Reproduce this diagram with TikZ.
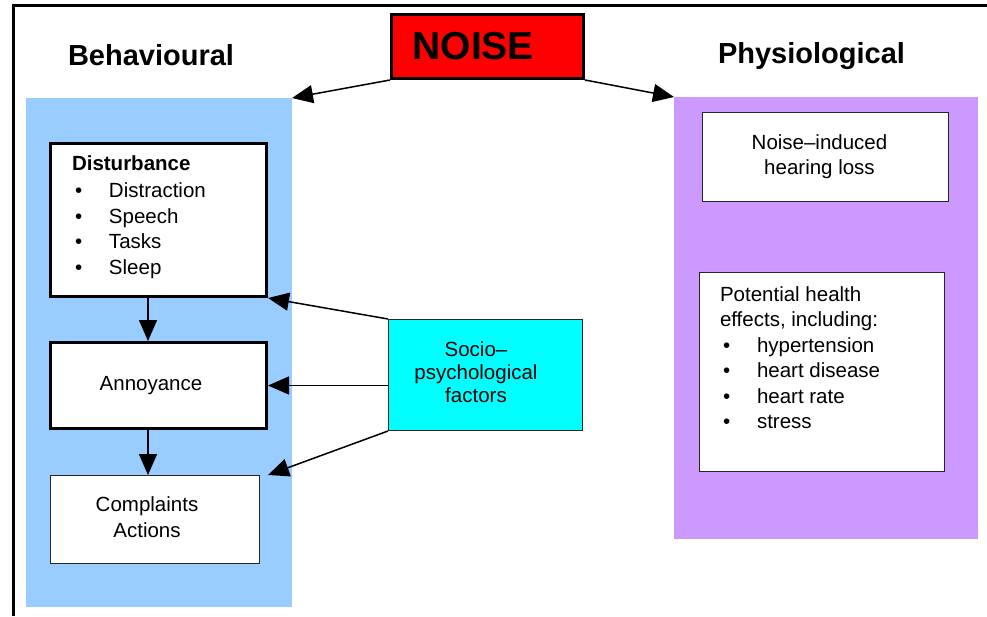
\documentclass[tikz,border=0pt]{standalone}
\usepackage{fontspec}
\setmainfont{Liberation Sans}
\usetikzlibrary{arrows.meta,positioning}

\definecolor{behblue}{RGB}{153,204,255}
\definecolor{physlilac}{RGB}{204,153,255}
\definecolor{sociocyan}{RGB}{0,255,255}
\newcommand{\bodyfont}{\fontsize{20.5}{25.5}\selectfont}
\newcommand{\bulletline}[1]{\hspace*{3pt}\makebox[34pt][l]{\textbullet}#1}

\begin{document}
\begin{tikzpicture}[x=1pt, y=-1pt,
    panel/.style={draw=none, inner sep=0pt, outer sep=0pt, anchor=north west},
    thickbox/.style={draw, line width=3pt, fill=white, inner sep=0pt, font=\bodyfont},
    thinbox/.style={draw=black!85, line width=1pt, fill=white, inner sep=0pt, font=\bodyfont},
    heading/.style={anchor=base, font=\fontsize{29}{33}\selectfont\bfseries},
    arrow/.style={-{Triangle[length=21pt,width=18pt]}, line width=1.5pt}
]
\useasboundingbox (0,0) rectangle (987,616);

% Frame
\draw[line width=3.3pt] (13.3,616) -- (13.3,5.7) -- (987,5.7);

% Panels
\node[panel, fill=behblue, minimum width=266pt, minimum height=509pt] (bpanel) at (26,98) {};
\node[panel, fill=physlilac, minimum width=304pt, minimum height=442pt] (ppanel) at (674,97) {};

% Noise
\node[draw, line width=3pt, fill=red, inner sep=0pt, minimum width=192pt, minimum height=64pt,
      font=\fontsize{39}{44}\selectfont\bfseries] (noise) at (487.5,46.5) {\makebox[150pt][l]{NOISE}};

% Headings
\node[heading] (behtitle) at (151,65) {Behavioural};
\node[heading] (phystitle) at (811.5,63) {Physiological};

% Behavioural side
\node[thickbox, minimum width=216pt, minimum height=153pt] (dist) at (158.5,220)
  {\parbox[c][128pt][t]{173pt}{{\bfseries Disturbance}\\[1.5pt]
   \bulletline{Distraction}\\
   \bulletline{Speech}\\
   \bulletline{Tasks}\\
   \bulletline{Sleep}}};
\node[thickbox, minimum width=216pt, minimum height=86pt] (ann) at (158.5,385.5) {Annoyance\hspace*{15pt}};
\node[thinbox, minimum width=209pt, minimum height=88pt] (comp) at (155,519.5)
  {\begin{tabular}{@{}c@{\hspace{16pt}}}Complaints\\Actions\end{tabular}};

% Socio-psychological
\node[thinbox, fill=sociocyan, minimum width=194pt, minimum height=111pt] (socio) at (485.5,375)
  {\def\arraystretch{0.9}\begin{tabular}{@{}c@{\hspace{19pt}}}Socio--\\psychological\\factors\end{tabular}};

% Physiological side
\node[thinbox, minimum width=246pt, minimum height=89pt] (nih) at (825.5,157)
  {\begin{tabular}{@{}c@{\hspace{12pt}}}Noise--induced\\hearing loss\end{tabular}};
\node[thinbox, minimum width=245pt, minimum height=199pt] (phe) at (822,372)
  {\parbox[c][171pt][t]{204pt}{Potential health\\
   effects, including:\\
   \bulletline{hypertension}\\
   \bulletline{heart disease}\\
   \bulletline{heart rate}\\
   \bulletline{stress}}};

% Arrows
\coordinate (stem) at (148,0);
\draw[arrow] (noise.south west) -- (bpanel.north east);
\draw[arrow] (noise.south east) -- (ppanel.north west);
\draw[arrow] (stem |- dist.south) -- (stem |- ann.north);
\draw[arrow] (stem |- ann.south) -- (stem |- comp.north);
\draw[arrow] (socio.north west) -- (dist.south east);
\draw[arrow] (socio.west |- ann.east) -- (ann.east);
\draw[arrow] (socio.south west) -- (ann.east |- comp.north);

\end{tikzpicture}
\end{document}
